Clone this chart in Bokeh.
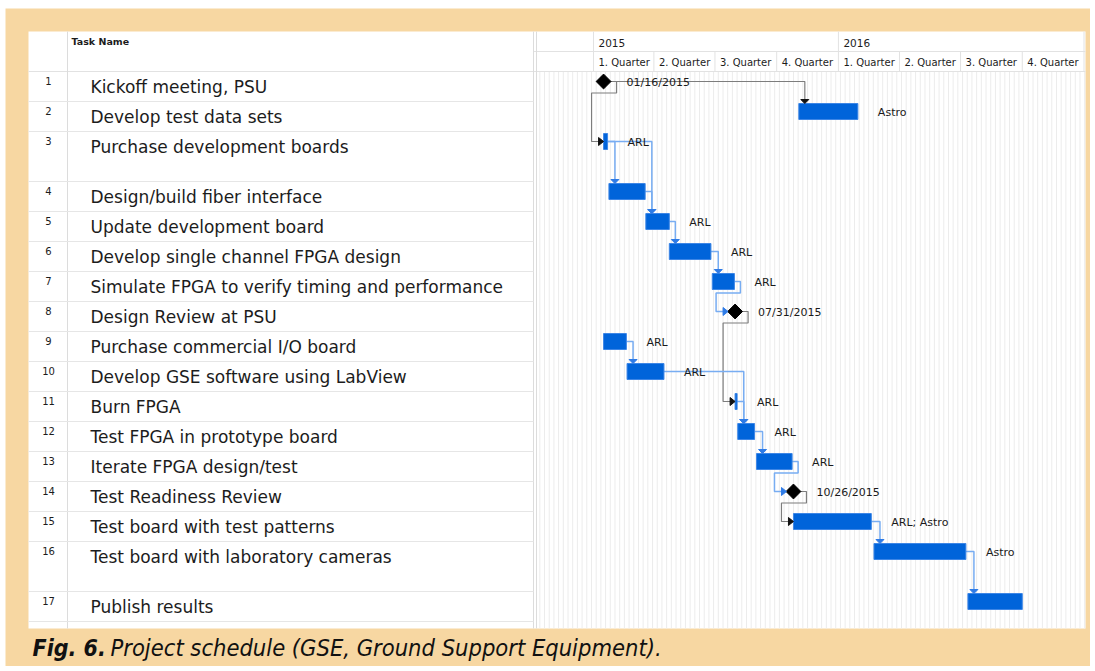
import numpy as np
import pandas as pd
from bokeh.plotting import figure
from bokeh.models import Range1d
from bokeh.core.properties import value
from bokeh.embed import file_html
from bokeh.resources import INLINE

# ---------------- data ----------------
row_ids = list(range(1, 18))
task_names = [
    "Kickoff meeting, PSU",
    "Develop test data sets",
    "Purchase development boards",
    "Design/build fiber interface",
    "Update development board",
    "Develop single channel FPGA design",
    "Simulate FPGA to verify timing and performance",
    "Design Review at PSU",
    "Purchase commercial I/O board",
    "Develop GSE software using LabView",
    "Burn FPGA",
    "Test FPGA in prototype board",
    "Iterate FPGA design/test",
    "Test Readiness Review",
    "Test board with test patterns",
    "Test board with laboratory cameras",
    "Publish results",
]
starts = ["2015-01-16", "2015-11-03", "2015-01-16", "2015-01-24", "2015-03-20",
          "2015-04-24", "2015-06-27", "2015-07-31", "2015-01-16", "2015-02-20",
          "2015-07-31", "2015-08-04", "2015-09-01", "2015-10-26", "2015-10-26",
          "2016-02-23", "2016-07-12"]
ends = ["2015-01-16", "2016-01-30", "2015-01-22", "2015-03-19", "2015-04-24",
        "2015-06-25", "2015-07-30", "2015-07-31", "2015-02-19", "2015-04-16",
        "2015-08-03", "2015-08-29", "2015-10-24", "2015-10-26", "2016-02-19",
        "2016-07-09", "2016-10-01"]
is_milestone = [True, False, False, False, False, False, False, True, False,
                False, False, False, False, True, False, False, False]
resources = ["", "Astro", "ARL", "", "ARL", "ARL", "ARL", "", "ARL", "ARL",
             "ARL", "ARL", "ARL", "", "ARL; Astro", "Astro", ""]
links = [(1, 2), (1, 3), (3, 4), (3, 5), (4, 5), (5, 6), (6, 7), (7, 8), (8, 11),
         (9, 10), (10, 12), (11, 12), (12, 13), (13, 14), (14, 15), (15, 16), (16, 17)]
year_labels = ["2015", "2016"]
quarter_labels = ["1. Quarter", "2. Quarter", "3. Quarter", "4. Quarter"] * 2
caption_bold = "Fig. 6."
caption_rest = "Project schedule (GSE, Ground Support Equipment)."

# ---------------- layout / style ----------------
W, H = 1090, 666
X0_PX = 593.0          # pixel of 2015-01-01
PXD = 0.671            # pixels per day
ORIGIN = pd.Timestamp("2015-01-01")
ORANGE = "#F7D7A2"
BAR = "#0064DA"
BAR_LINE = "#3D86E6"
LINK_BLUE = "#78ADF2"
ARROW_BLUE = "#2E7BE6"
LINK_GRAY = "#7d7d7d"
TXT = "#1c1c1c"
FONT = "DejaVu Sans"
CAP_FONT = "DejaVu Sans Condensed"

row_heights = [30, 30, 50, 30, 30, 30, 30, 30, 30, 30, 30, 30, 30, 30, 30, 50, 30]
TABLE_TOP = 71
row_tops = TABLE_TOP + np.concatenate([[0], np.cumsum(row_heights)[:-1]])
table_bottom = TABLE_TOP + sum(row_heights)

def day(s):
    return (pd.Timestamp(s) - ORIGIN).days

sd = np.array([day(s) for s in starts], dtype=float)
ed = np.array([day(s) for s in ends], dtype=float)
ms = np.array(is_milestone)
yc = row_tops + 10.0

px = lambda n: n / PXD   # pixel offset -> days

p = figure(width=W, height=H, output_backend="svg", toolbar_location=None,
           x_range=Range1d(0, W), y_range=Range1d(H, 0),
           x_axis_type=None, y_axis_type=None, min_border=0)
p.extra_x_ranges = {"days": Range1d(px(0 - X0_PX), px(W - X0_PX))}
p.grid.visible = False
p.outline_line_color = None
p.background_fill_color = "white"
p.border_fill_color = "white"
p.min_border_left = p.min_border_right = p.min_border_top = p.min_border_bottom = 0

# orange frame and white panel
p.quad(left=[5], right=[1090], top=[8], bottom=[666], fill_color=ORANGE, line_color=None)
p.quad(left=[28], right=[1085], top=[31], bottom=[628], fill_color="white", line_color=None)

# weekly grid in gantt area
wk = pd.date_range("2014-09-29", "2017-01-09", freq="7D")
wd = np.array([(d - ORIGIN).days for d in wk], dtype=float)
wd = wd[(wd > px(535 - X0_PX)) & (wd < px(1085 - X0_PX))]
p.segment(x0=wd, y0=TABLE_TOP, x1=wd, y1=628, x_range_name="days",
          line_color="#ececec", line_width=1)

# header lines
qd = np.array([(d - ORIGIN).days for d in pd.date_range("2015-01-01", periods=9, freq="QS")], dtype=float)
yd = qd[::4]
p.segment(x0=qd, y0=51, x1=qd, y1=71, x_range_name="days", line_color="#e2e2e2")
p.segment(x0=yd, y0=31, x1=yd, y1=51, x_range_name="days", line_color="#e2e2e2")
p.segment(x0=[533, 28], y0=[51, 71], x1=[1085, 1085], y1=[51, 71], line_color="#e2e2e2")
p.segment(x0=[533, 536, 67], y0=[31, 31, 31], x1=[533, 536, 67], y1=[628, 628, 628],
          line_color="#dcdcdc")

# table row lines
p.segment(x0=28, y0=list(row_tops[1:]) + [table_bottom], x1=533,
          y1=list(row_tops[1:]) + [table_bottom], line_color="#e6e6e6")

# header texts
p.text(x=[71], y=[41], text=["Task Name"], text_font=value(FONT), text_font_size="9.5px",
       text_font_style="bold", text_baseline="middle", text_color=TXT)
p.text(x=yd[:2], y=[42, 42], text=year_labels, x_range_name="days", x_offset=5,
       text_font=value(FONT), text_font_size="10.5px", text_baseline="middle",
       text_color=TXT)
p.text(x=qd[:8], y=[62] * 8, text=quarter_labels, x_range_name="days", x_offset=5,
       text_font=value(FONT), text_font_size="10px", text_baseline="middle",
       text_color=TXT)

# table texts
p.text(x=[48] * 17, y=row_tops + 9.5, text=[str(i) for i in row_ids], text_font=value(FONT),
       text_font_size="10px", text_align="center", text_baseline="middle", text_color=TXT)
p.text(x=[90] * 17, y=row_tops + 15, text=task_names, text_font=value(FONT),
       text_font_size="17px", text_baseline="middle", text_color=TXT)

# links
def right_edge(i):
    return sd[i] + px(7) if ms[i] else ed[i]

def left_edge(i):
    return sd[i] - px(7) if ms[i] else sd[i]

lx_b, ly_b, lx_g, ly_g = [], [], [], []
ah_b_x, ah_b_y, ah_g_x, ah_g_y = [], [], [], []
for a, b in links:
    i, j = a - 1, b - 1
    pr, sl = right_edge(i), left_edge(j)
    if sl >= pr and not ms[j]:
        xt = max(sl, pr) + px(6)
        xs = [pr, xt, xt]
        ys = [yc[i], yc[i], yc[j] - 12]
        hx = [xt - px(4), xt + px(4), xt]
        hy = [yc[j] - 12, yc[j] - 12, yc[j] - 8]
    else:
        xa = pr + px(6)
        xb = sl - px(12)
        yb = yc[i] + 11.5
        xs = [pr, xa, xa, xb, xb, sl - px(4)]
        ys = [yc[i], yc[i], yb, yb, yc[j], yc[j]]
        hx = [sl - px(5), sl - px(5), sl]
        hy = [yc[j] - 4, yc[j] + 4, yc[j]]
    if ms[i]:
        lx_g.append(xs); ly_g.append(ys); ah_g_x.append(hx); ah_g_y.append(hy)
    else:
        lx_b.append(xs); ly_b.append(ys); ah_b_x.append(hx); ah_b_y.append(hy)

p.multi_line(xs=lx_g, ys=ly_g, x_range_name="days", line_color=LINK_GRAY, line_width=1.2)
p.multi_line(xs=lx_b, ys=ly_b, x_range_name="days", line_color=LINK_BLUE, line_width=1.5)

# bars
tb = ~ms
p.quad(left=sd[tb], right=ed[tb], top=yc[tb] - 8, bottom=yc[tb] + 8, x_range_name="days",
       fill_color=BAR, line_color=BAR_LINE, line_width=1)
# milestones
p.scatter(x=sd[ms], y=yc[ms], marker="square", angle=np.pi / 4, size=10.5,
          x_range_name="days", fill_color="black", line_color="black")

p.patches(xs=ah_g_x, ys=ah_g_y, x_range_name="days", fill_color="#111111", line_color="#111111")
p.patches(xs=ah_b_x, ys=ah_b_y, x_range_name="days", fill_color=ARROW_BLUE, line_color=ARROW_BLUE)

# bar labels
lab_x, lab_y, lab_t, lab_off = [], [], [], []
for i in range(17):
    if ms[i]:
        lab_x.append(sd[i]); lab_t.append(pd.Timestamp(starts[i]).strftime("%m/%d/%Y")); lab_off.append(23)
    else:
        lab_x.append(ed[i]); lab_t.append(resources[i]); lab_off.append(20)
    lab_y.append(yc[i] + 0.5)
p.text(x=lab_x, y=lab_y, text=lab_t, x_offset=lab_off, x_range_name="days",
       text_font=value(FONT), text_font_size="11px", text_baseline="middle",
       text_color="#1a1a1a")

# caption
p.text(x=[32], y=[647], text=[caption_bold], text_font=value(CAP_FONT),
       text_font_size="23px", text_font_style="bold italic", text_baseline="middle",
       text_color="#111111")
p.text(x=[110], y=[647], text=[caption_rest], text_font=value(CAP_FONT),
       text_font_size="23.5px", text_font_style="italic", text_baseline="middle",
       text_color="#111111")

open("out.html", "w").write(file_html(p, INLINE))
